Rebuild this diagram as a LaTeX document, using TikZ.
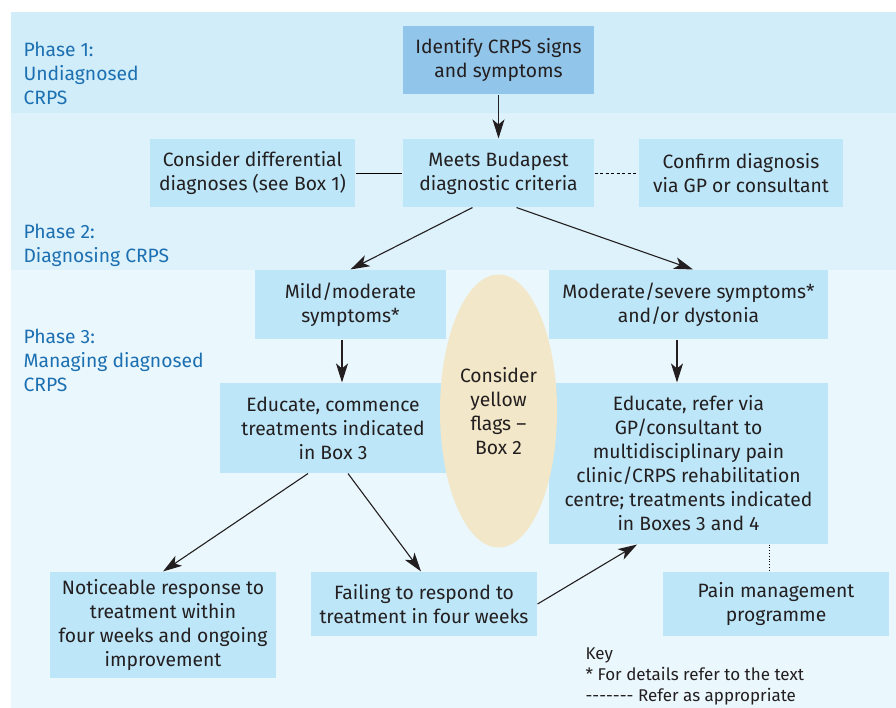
\documentclass[tikz,border=0pt]{standalone}
\usepackage{fontspec}
\setmainfont{Fira Sans}
\usetikzlibrary{arrows.meta, shapes.geometric}

\definecolor{bandone}{RGB}{208,237,249}
\definecolor{bandtwo}{RGB}{222,242,251}
\definecolor{bandthree}{RGB}{234,247,253}
\definecolor{boxblue}{RGB}{189,230,248}
\definecolor{topblue}{RGB}{146,197,234}
\definecolor{flagyellow}{RGB}{242,231,200}
\definecolor{phaseblue}{RGB}{28,112,178}
\definecolor{inkdark}{RGB}{35,31,32}

\begin{document}
\begin{tikzpicture}
[x=1pt, y=-1pt, line width=1.1pt, font=\fontsize{19.3}{24}\selectfont,
every node/.style={inner sep=0pt, align=center, text=inkdark},
box/.style={rectangle, fill=boxblue},
flag/.style={ellipse, fill=flagyellow, minimum width=117pt, minimum height=273pt},
phase/.style={anchor=north west, align=left, text=phaseblue},
arr/.style={draw=inkdark, -{Stealth[length=19pt, width=12pt, inset=5pt]}}
]
\useasboundingbox (0,0) rectangle (896,708);

% phase bands
\foreach \c/\a/\b in {bandone/12/113, bandtwo/113/270, bandthree/270/708}
{\fill[\c] (11,\a) rectangle (896,\b);}

% phase labels
\node[phase] (p1) at (23,42) {Phase 1:\\Undiagnosed\\CRPS};
\node[phase] (p2) at (23,224) {Phase 2:\\Diagnosing CRPS};
\node[phase] (p3) at (23,329) {Phase 3:\\Managing diagnosed\\CRPS};

% boxes
\node[box, fill=topblue, minimum width=191pt, minimum height=68pt] (ident) at (498.5,60)
{Identify CRPS signs\\and symptoms};
\node[box, minimum width=191pt, minimum height=68pt] (meets) at (498.5,173)
{Meets Budapest\\diagnostic criteria};
\node[box, minimum width=205pt, minimum height=68pt] (diff) at (252.5,173)
{Consider differential\\diagnoses (see Box 1)};
\node[box, minimum width=204pt, minimum height=68pt] (conf) at (741,173)
{Confirm diagnosis\\via GP or consultant};
\node[box, minimum width=191pt, minimum height=69pt] (mild) at (350.5,304.5)
{Mild/moderate\\symptoms*};
\node[box, minimum width=279pt, minimum height=69pt] (modsev) at (688.5,304.5)
{Moderate/severe symptoms*\\and/or dystonia};
\node[box, minimum width=226pt, minimum height=90pt] (educ) at (333,428)
{Educate, commence\\treatments indicated\\in Box 3};
\node[box, minimum width=279pt, minimum height=161pt] (refer) at (688.5,463.5)
{Educate, refer via\\GP/consultant to\\multidisciplinary pain\\clinic/CRPS rehabilitation\\centre; treatments indicated\\in Boxes 3 and 4};
\node[box, minimum width=226pt, minimum height=106pt] (notic) at (163,625)
{Noticeable response to\\treatment within\\four weeks and ongoing\\improvement};
\node[box, minimum width=226pt, minimum height=64pt] (fail) at (424,604)
{Failing to respond to\\treatment in four weeks};
\node[box, minimum width=226pt, minimum height=64pt] (pain) at (776,604)
{Pain management\\programme};

% yellow flags on top
\node[flag] (yellow) at (498.5,411) {Consider\\yellow\\flags --\\Box 2};

% key
\node[anchor=north west, align=left, font=\fontsize{17}{21}\selectfont] (key) at (585,647)
{Key\\* For details refer to the text\\-{}-{}-{}-{}-{}-{}- Refer as appropriate};

% connectors
\draw[arr] (ident.south) -- (meets.north);
\draw[line width=0.9pt] (diff.east) -- (meets.west);
\draw[line width=0.8pt, dash pattern=on 3pt off 2.5pt] (meets.east) -- (conf.west);
\draw[arr] ([xshift=-26pt]meets.south) -- (mild.north);
\draw[arr] ([xshift=18pt]meets.south) -- ([xshift=4.5pt]modsev.north);
\draw[arr] ([xshift=-8.5pt]mild.south) -- ([xshift=9pt]educ.north);
\draw[arr] ([xshift=-11.5pt]modsev.south) -- ([xshift=-11.5pt]refer.north);
\draw[arr] ([xshift=-25pt]educ.south) -- (notic.north);
\draw[arr] ([xshift=15pt]educ.south) -- ([xshift=-3pt]fail.north);
\draw[arr] (fail.east) -- ([xshift=-51.5pt]refer.south);
\draw[dotted, line width=0.8pt] ([xshift=80.5pt]refer.south) -- ([xshift=-7pt]pain.north);

\end{tikzpicture}
\end{document}
